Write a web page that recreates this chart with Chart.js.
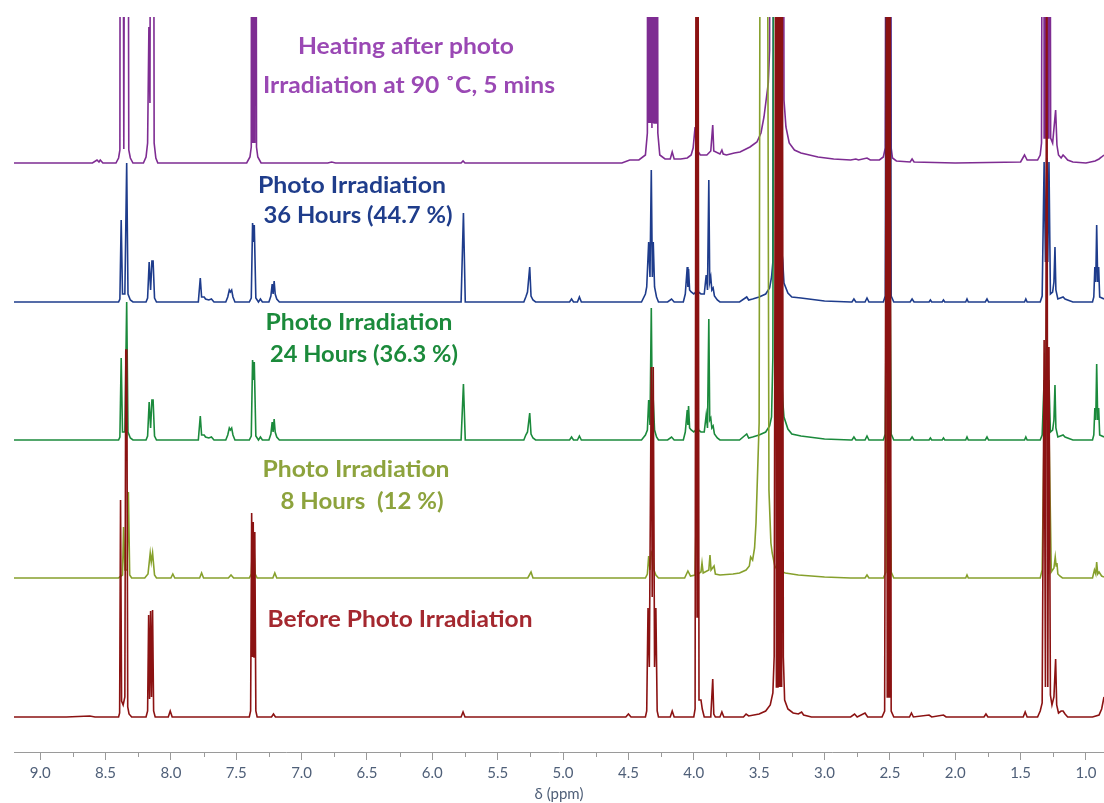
<!DOCTYPE html>
<html><head><meta charset="utf-8">
<script src="https://cdn.jsdelivr.net/npm/chart.js@4.4.0/dist/chart.umd.min.js"></script>
<style>html,body{margin:0;padding:0;background:#fff}#wrap{position:relative;width:1104px;height:803px}</style>
</head><body><div id="wrap"><canvas id="c" width="1104" height="803"></canvas></div>
<script>
// ---- Data (ppm, intensity above each trace's own baseline) ----
const seriesNames = ['Before Photo Irradiation', 'Photo Irradiation 8 Hours (12 %)', 'Photo Irradiation 24 Hours (36.3 %)', 'Photo Irradiation 36 Hours (44.7 %)', 'Heating after photo Irradiation at 90 ˚C, 5 mins'];
const baselineOffsets = [35, 174, 312, 450, 589];
const lineColors = ['#8b1212', '#86a02c', '#1b8a3c', '#1e3c8c', '#7e2c92'];

const spectrumBefore = [[9.20,0],[8.80,0],[8.62,1],[8.58,0],
[8.40,0],[8.392,4],[8.385,217],[8.377,16],[8.365,12],[8.352,20],[8.345,367],[8.337,367],[8.33,10],[8.32,3],[8.30,0],
[8.19,0],[8.178,6],[8.17,102],[8.163,18],[8.155,106],[8.148,20],[8.14,107],[8.132,6],[8.12,0],
[8.02,0],[8.005,6],[7.99,0],
[7.40,0],[7.39,6],[7.382,204],[7.376,60],[7.37,195],[7.364,60],[7.358,185],[7.35,6],[7.34,0],
[7.23,0],[7.215,3],[7.20,0],
[5.78,0],[5.765,5],[5.75,0],
[4.52,0],[4.50,3],[4.48,0],
[4.37,0],[4.36,6],[4.35,109],[4.34,50],[4.325,350],[4.318,120],[4.31,350],[4.30,50],[4.29,109],[4.28,6],[4.27,0],
[4.18,0],[4.165,6],[4.15,0],
[4.00,0],[3.99,8],[3.982,900],[3.975,100],[3.968,900],[3.96,17],[3.945,17],[3.935,8],[3.92,0],
[3.87,0],[3.855,38],[3.847,3],[3.835,0],
[3.80,0],[3.785,5],[3.77,0],
[3.62,0],[3.60,3],[3.58,1],[3.50,3],[3.45,6],[3.415,12],[3.395,24],[3.385,60],[3.372,900],[3.368,30],[3.364,900],[3.36,30],[3.356,900],[3.352,30],[3.348,900],[3.344,30],[3.34,900],[3.336,30],[3.332,900],[3.328,30],[3.324,900],[3.315,60],[3.305,17],[3.28,8],[3.24,4],[3.20,3],[3.175,5],[3.16,2],[3.10,0],
[2.80,0],[2.77,3],[2.75,0],[2.69,4],[2.67,0],
[2.56,0],[2.54,6],[2.524,900],[2.52,20],[2.516,900],[2.512,20],[2.508,900],[2.504,20],[2.50,900],[2.49,6],[2.47,0],
[2.35,0],[2.335,4],[2.32,0],[2.20,2],[2.18,0],[2.09,2],[2.07,0],[1.78,0],[1.765,3],[1.75,0],[1.48,0],[1.465,5],[1.45,0],
[1.37,0],[1.35,6],[1.335,14],[1.32,377],[1.31,30],[1.30,900],[1.292,30],[1.283,370],[1.272,22],[1.26,12],[1.245,20],[1.232,58],[1.224,12],[1.21,4],[1.19,6],[1.175,6],[1.16,3],[1.14,0],
[0.95,0],[0.90,2],[0.88,8],[0.862,20]];

const spectrum8h = [[9.20,0],[8.80,0],
[8.40,0],[8.37,3],[8.362,51],[8.352,8],[8.335,8],[8.325,86],[8.315,3],[8.30,0],
[8.20,0],[8.175,4],[8.158,25],[8.15,16],[8.14,25],[8.125,3],[8.11,0],
[8.00,0],[7.985,4],[7.97,0],
[7.78,0],[7.765,5],[7.75,0],
[7.56,0],[7.54,3],[7.52,0],
[7.40,0],[7.385,4],[7.375,35],[7.365,32],[7.355,4],[7.34,0],
[7.22,0],[7.205,5],[7.19,0],
[5.27,0],[5.245,6],[5.23,0],
[4.37,0],[4.355,4],[4.345,22],[4.335,8],[4.325,26],[4.315,24],[4.305,8],[4.29,3],[4.27,0],
[4.07,0],[4.045,7],[4.025,2],[3.99,3],[3.978,90],[3.968,4],[3.945,6],[3.937,15],[3.928,5],[3.885,8],[3.876,23],[3.868,8],[3.845,12],[3.835,4],[3.80,3],
[3.70,4],[3.65,5],[3.60,8],[3.575,12],[3.565,21],[3.55,18],[3.535,30],[3.524,55],[3.50,155],[3.49,900],[3.44,900],[3.425,88],[3.41,35],[3.40,25],[3.38,12],[3.36,8],[3.30,5],[3.20,3],[3.00,1],[2.80,0],
[2.69,0],[2.675,3],[2.66,0],
[2.55,0],[2.53,6],[2.52,200],[2.505,200],[2.49,6],[2.47,0],
[1.92,0],[1.91,3],[1.90,0],
[1.35,0],[1.335,8],[1.32,150],[1.30,200],[1.283,150],[1.265,6],[1.245,10],[1.235,21],[1.228,12],[1.222,15],[1.215,4],[1.20,2],[1.18,0],
[0.95,0],[0.935,8],[0.925,4],[0.918,16],[0.91,4],[0.90,6],[0.88,2],[0.862,1]];

const spectrum24h = [[9.20,0],[8.80,0],
[8.40,0],[8.39,3],[8.38,82],[8.37,8],[8.352,8],[8.338,138],[8.328,8],[8.31,2],[8.29,0],
[8.19,0],[8.178,4],[8.166,38],[8.155,12],[8.145,40],[8.136,40],[8.125,4],[8.11,0],
[7.79,0],[7.775,24],[7.765,5],[7.745,5],[7.735,3],[7.71,2],[7.69,3],[7.67,0],
[7.58,0],[7.565,5],[7.553,12],[7.545,10],[7.535,12],[7.525,5],[7.51,0],
[7.40,0],[7.385,4],[7.375,80],[7.368,60],[7.362,78],[7.35,4],[7.33,0],[7.315,3],[7.30,0],
[7.25,0],[7.235,6],[7.225,18],[7.218,8],[7.21,21],[7.202,8],[7.19,3],[7.17,0],
[5.78,0],[5.762,56],[5.748,0],
[5.30,0],[5.285,5],[5.272,8],[5.255,27],[5.245,6],[5.23,2],[5.21,0],
[4.95,0],[4.935,3],[4.92,0],[4.89,0],[4.875,4],[4.86,0],
[4.40,0],[4.37,5],[4.355,10],[4.345,40],[4.335,15],[4.325,132],[4.317,20],[4.31,40],[4.30,10],[4.285,3],[4.27,0],
[4.20,0],[4.17,3],[4.15,0],
[4.08,0],[4.065,8],[4.05,30],[4.045,15],[4.04,34],[4.032,12],[4.02,10],[4.00,8],[3.985,10],[3.975,40],[3.965,10],[3.945,8],
[3.92,8],[3.905,25],[3.895,12],[3.885,121],[3.878,20],[3.87,22],[3.862,12],[3.852,14],[3.842,6],[3.82,2],[3.80,0],
[3.65,0],[3.595,6],[3.58,2],[3.55,3],[3.50,5],[3.45,8],[3.42,14],[3.405,23],[3.395,83],[3.385,900],[3.345,900],[3.335,90],[3.32,40],[3.31,23],[3.28,11],[3.25,6],[3.18,4],[3.00,1],[2.80,0],
[2.79,0],[2.775,3],[2.76,0],[2.69,0],[2.675,4],[2.66,0],
[2.55,0],[2.535,6],[2.52,300],[2.505,300],[2.49,6],[2.47,0],
[2.345,0],[2.33,3],[2.315,0],[2.20,0],[2.19,2],[2.18,0],[2.10,0],[2.09,2],[2.08,0],[1.92,0],[1.91,3],[1.90,0],[1.77,0],[1.757,3],[1.745,0],[1.47,0],[1.46,3],[1.45,0],
[1.35,0],[1.335,5],[1.32,60],[1.31,20],[1.30,140],[1.292,20],[1.283,60],[1.272,8],[1.255,10],[1.245,20],[1.237,55],[1.23,12],[1.215,3],[1.175,5],[1.16,3],[1.10,0],
[0.95,0],[0.94,5],[0.932,32],[0.925,20],[0.918,76],[0.91,20],[0.903,32],[0.895,5],[0.862,3]];

const spectrum36h = [[9.20,0],[8.80,0],
[8.40,0],[8.39,3],[8.38,82],[8.37,8],[8.352,8],[8.338,139],[8.328,8],[8.31,2],[8.29,0],
[8.19,0],[8.178,4],[8.166,40],[8.155,12],[8.145,41],[8.136,41],[8.125,4],[8.11,0],
[7.79,0],[7.775,24],[7.765,5],[7.745,5],[7.735,3],[7.71,2],[7.69,3],[7.67,0],
[7.58,0],[7.565,5],[7.553,12],[7.545,10],[7.535,12],[7.525,5],[7.51,0],
[7.40,0],[7.385,4],[7.375,79],[7.368,60],[7.362,77],[7.35,4],[7.33,0],[7.315,3],[7.30,0],
[7.25,0],[7.235,6],[7.225,18],[7.218,8],[7.21,21],[7.202,8],[7.19,3],[7.17,0],
[5.78,0],[5.762,89],[5.748,0],
[5.30,0],[5.285,5],[5.272,10],[5.255,35],[5.245,6],[5.23,2],[5.21,0],
[4.95,0],[4.935,3],[4.92,0],[4.89,0],[4.875,5],[4.86,0],
[4.40,0],[4.37,8],[4.36,15],[4.345,60],[4.335,25],[4.325,132],[4.317,25],[4.31,60],[4.30,15],[4.285,5],[4.27,0],
[4.20,0],[4.17,3],[4.15,0],
[4.08,0],[4.065,8],[4.05,35],[4.045,15],[4.04,33],[4.032,12],[4.02,10],[4.00,8],[3.985,10],[3.975,40],[3.965,10],[3.945,8],
[3.92,8],[3.905,27],[3.895,12],[3.885,122],[3.878,20],[3.87,25],[3.862,12],[3.852,14],[3.842,6],[3.82,2],[3.80,0],
[3.65,0],[3.595,5],[3.58,2],[3.55,3],[3.50,5],[3.45,8],[3.42,14],[3.405,25],[3.395,40],[3.385,900],[3.345,900],[3.335,60],[3.32,42],[3.31,19],[3.28,9],[3.25,5],[3.18,4],[3.00,1],[2.80,0],
[2.79,0],[2.775,3],[2.76,0],[2.69,0],[2.675,4],[2.66,0],
[2.55,0],[2.535,6],[2.52,900],[2.505,900],[2.49,6],[2.47,0],
[2.345,0],[2.33,3],[2.315,0],[2.20,0],[2.19,2],[2.18,0],[2.10,0],[2.09,2],[2.08,0],[1.92,0],[1.91,3],[1.90,0],[1.77,0],[1.757,3],[1.745,0],[1.47,0],[1.46,3],[1.45,0],
[1.35,0],[1.335,6],[1.32,140],[1.31,40],[1.30,144],[1.292,40],[1.283,140],[1.272,8],[1.255,10],[1.245,20],[1.237,55],[1.23,12],[1.215,3],[1.175,5],[1.16,3],[1.10,0],
[0.95,0],[0.94,5],[0.932,35],[0.925,20],[0.918,77],[0.91,20],[0.903,35],[0.895,5],[0.862,3]];

const spectrumHeated = [[9.20,0],[8.70,0],[8.60,0],[8.565,3],[8.55,1],[8.54,3],[8.52,0],
[8.42,0],[8.40,5],[8.39,13],[8.383,900],[8.375,900],[8.36,14],[8.345,900],[8.335,900],[8.322,13],[8.31,5],[8.29,0],
[8.21,0],[8.19,6],[8.178,20],[8.168,136],[8.16,60],[8.148,900],[8.138,900],[8.128,20],[8.115,5],[8.10,0],
[7.42,0],[7.395,6],[7.385,16],[7.378,900],[7.374,20],[7.37,900],[7.366,20],[7.362,900],[7.358,20],[7.354,900],[7.345,16],[7.335,6],[7.31,0],
[6.80,0],[6.77,1],[6.74,0],[5.78,0],[5.765,2],[5.75,0],
[4.55,0],[4.49,3],[4.42,3],[4.37,8],[4.355,30],[4.348,900],[4.344,40],[4.34,900],[4.336,40],[4.332,900],[4.328,40],[4.324,900],[4.32,35],[4.316,900],[4.312,40],[4.308,900],[4.304,40],[4.30,900],[4.296,40],[4.292,900],[4.288,40],[4.284,900],[4.275,30],[4.26,8],[4.22,4],
[4.18,4],[4.165,11],[4.15,4],[4.10,4],[4.05,5],[4.02,8],[4.005,15],[3.99,36],[3.982,20],[3.97,12],[3.95,8],[3.90,8],[3.87,12],[3.855,38],[3.847,12],[3.80,9],[3.785,13],[3.775,9],[3.75,8],
[3.69,10],[3.646,11],[3.57,16],[3.517,21],[3.486,30],[3.463,46],[3.43,80],[3.42,113],[3.405,900],[3.32,900],[3.31,63],[3.295,36],[3.27,20],[3.23,13],[3.18,10],[3.05,6],[2.93,4],[2.80,3],[2.76,4],[2.74,3],[2.675,5],[2.65,3],
[2.58,3],[2.55,6],[2.535,15],[2.524,900],[2.52,20],[2.516,900],[2.512,20],[2.508,900],[2.504,20],[2.50,900],[2.49,15],[2.48,5],[2.45,2],
[2.345,1],[2.33,4],[2.315,1],[2.00,0],[1.50,1],[1.47,8],[1.45,3],
[1.37,3],[1.35,8],[1.34,20],[1.324,900],[1.32,25],[1.316,900],[1.312,25],[1.308,900],[1.304,25],[1.30,900],[1.296,25],[1.292,900],[1.288,25],[1.284,900],[1.27,25],[1.255,20],[1.232,53],[1.222,18],[1.21,8],[1.19,5],[1.175,8],[1.16,6],[1.14,3],[1.10,1],[1.00,0],[0.93,2],[0.90,4],[0.88,6],[0.862,8]];

const spectra = [spectrumBefore, spectrum8h, spectrum24h, spectrum36h, spectrumHeated];

const xRange = [0.862, 9.2];
const yRange = [0, 735];
const minorTicks = [1.25,1.75,2.25,2.75,3.25,3.75,4.25,4.75,5.25,5.75,6.25,6.75,7.25,7.75,8.25,8.75];

// annotation text lines: text, centre x, centre y, colour, drawn width
const labelLines = [
  ['Heating after photo', 406, 47, '#9a48b4', 216],
  ['Irradiation at 90 ˚C, 5 mins', 409, 86, '#9a48b4', 292],
  ['Photo Irradiation', 352, 186, '#1f3d8b', 188],
  ['36 Hours (44.7 %)', 358, 216, '#1f3d8b', 189],
  ['Photo Irradiation', 359, 323, '#1b8a3b', 187],
  ['24 Hours (36.3 %)', 364, 355, '#1b8a3b', 188],
  ['Photo Irradiation', 356, 470, '#8da33d', 187],
  ['8 Hours  (12 %)', 362, 502, '#8da33d', 163],
  ['Before Photo Irradiation', 400, 620, '#a4282f', 265]
];

const datasets = spectra.map((s, i) => ({
  label: seriesNames[i],
  data: s.map(p => ({x: p[0], y: p[1] + baselineOffsets[i]})),
  borderColor: lineColors[i],
  borderWidth: 1.6,
  pointRadius: 0,
  tension: 0,
  showLine: true,
  fill: false
}));

const textPlugin = {
  id: 'texts',
  afterDatasetsDraw(chart) {
    const ctx = chart.ctx;
    labelLines.forEach(([t, x, y, c, w]) => {
      ctx.save();
      ctx.font = 'bold 22px Lato';
      ctx.textAlign = 'center';
      ctx.textBaseline = 'middle';
      ctx.fillStyle = c;
      const m = ctx.measureText(t).width;
      const sx = Math.min(1.2, Math.max(0.85, w / m));
      ctx.translate(x, y);
      ctx.scale(sx, 1);
      ctx.fillText(t, 0, 0);
      ctx.restore();
    });
  },
  afterDraw(chart) {
    const sx = chart.scales.x, ctx = chart.ctx;
    ctx.save();
    ctx.strokeStyle = '#9a9a9a';
    ctx.lineWidth = 1;
    minorTicks.forEach(v => {
      const px = Math.round(sx.getPixelForValue(v)) + 0.5;
      ctx.beginPath(); ctx.moveTo(px, sx.top); ctx.lineTo(px, sx.top + 5); ctx.stroke();
    });
    ctx.restore();
  }
};

new Chart(document.getElementById('c'), {
  type: 'scatter',
  data: { datasets },
  options: {
    responsive: false,
    animation: false,
    devicePixelRatio: 1,
    layout: { padding: { left: 14, top: 17, right: 0, bottom: 1 } },
    plugins: { legend: { display: false }, tooltip: { enabled: false } },
    scales: {
      x: {
        type: 'linear', reverse: true, min: xRange[0], max: xRange[1],
        afterFit(scale) { scale.height = 50; },
        ticks: {
          stepSize: 0.5, includeBounds: false, autoSkip: false, maxRotation: 0,
          padding: 4, color: '#4f5f78', font: { family: 'Lato', size: 15 },
          callback: v => Number(v).toFixed(1)
        },
        grid: { drawOnChartArea: false, drawTicks: true, tickLength: 8, color: '#9a9a9a' },
        border: { display: true, color: '#9a9a9a', width: 1 },
        title: { display: true, text: 'δ (ppm)', color: '#4f5f78', font: { family: 'Lato', size: 15, lineHeight: 1.1 }, padding: { top: 0, bottom: 0 } }
      },
      y: { display: false, min: yRange[0], max: yRange[1] }
    }
  },
  plugins: [textPlugin]
});
</script></body></html>
